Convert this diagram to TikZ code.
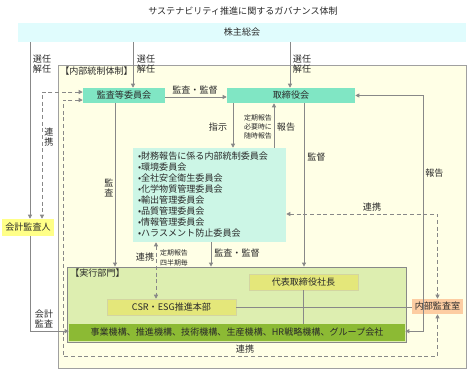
\documentclass[tikz,border=0pt]{standalone}
\usepackage{fontspec}
\setmainfont{Noto Sans CJK JP}
\usetikzlibrary{arrows.meta}

\definecolor{txtgray}{HTML}{2A2A2A}
\definecolor{lngray}{HTML}{888888}
\definecolor{agmcyan}{HTML}{E0FCFD}
\definecolor{icyellow}{HTML}{FFFFE6}
\definecolor{mint}{HTML}{80E6C4}
\definecolor{lightmint}{HTML}{CCF6E6}
\definecolor{execgreen}{HTML}{DDEEB0}
\definecolor{boxyellow}{HTML}{E4E77A}
\definecolor{bargreen}{HTML}{8CBA34}
\definecolor{peach}{HTML}{FDCDA2}
\definecolor{cpayellow}{HTML}{FFFF88}

\begin{document}
\begin{tikzpicture}[x=0.75pt, y=-0.75pt, font=\fontsize{6.8}{8}\selectfont,
    every node/.style={text=txtgray},
    box/.style={inner sep=0pt, minimum height=11.25pt},
    lbl/.style={inner sep=0pt, align=center, font=\fontsize{6.8}{7.6}\selectfont},
    small/.style={inner sep=0pt, align=center, font=\fontsize{5.2}{7}\selectfont},
    arr/.style={draw=lngray, line width=0.6pt, -{Triangle[length=3pt,width=3pt]}},
    arrboth/.style={draw=lngray, line width=0.6pt, {Triangle[length=3pt,width=3pt]}-{Triangle[length=3pt,width=3pt]}},
    dasharr/.style={arrboth, densely dashed},
    ln/.style={draw=lngray, line width=0.6pt}]
    \useasboundingbox (0,0) rectangle (467,370);

    % Title
    \node[inner sep=0pt] (title) at (243,11) {サステナビリティ推進に関するガバナンス体制};

    % Shareholders meeting
    \node[box, fill=agmcyan, minimum width=336pt, minimum height=14.25pt] (agm) at (242,32.5) {株主総会};

    % Internal control frame
    \node[draw=lngray!80, fill=icyellow, line width=0.6pt, minimum width=306pt, minimum height=227.25pt, inner sep=0pt] (ic) at (262,216.5) {};
    \node[inner sep=0pt, anchor=west] (iclabel) at (60,71) {【内部統制体制】};

    % Committees and board
    \node[box, fill=mint, minimum width=61.5pt] (audit) at (124,95.5) {監査等委員会};
    \node[box, fill=mint, minimum width=96pt] (board) at (291,95.5) {取締役会};
    \node[fill=lightmint, minimum height=70.5pt, text width=107.25pt, inner xsep=3.75pt, inner ysep=0pt,
        align=left, font=\fontsize{6.8}{8.25}\selectfont] (comm) at (209.5,195)
        {•財務報告に係る内部統制委員会\\•環境委員会\\•全社安全衛生委員会\\•化学物質管理委員会\\•輸出管理委員会\\•品質管理委員会\\•情報管理委員会\\•ハラスメント防止委員会};

    % Outside the frame
    \node[box, fill=cpayellow, minimum width=39pt, minimum height=12.75pt] (cpa) at (28,227.5) {会計監査人};
    \node[box, fill=peach, minimum width=38.25pt] (iad) at (437.5,306.5) {内部監査室};

    % Execution division
    \node[draw=lngray, fill=execgreen, line width=0.6pt, minimum width=254.25pt, minimum height=56.25pt, inner sep=0pt] (exec) at (236.5,304.5) {};
    \node[inner sep=0pt, anchor=west] (execlabel) at (70,273) {【実行部門】};
    \node[box, draw=boxyellow!80!black!60, fill=boxyellow, minimum width=81.75pt, minimum height=12pt] (ceo) at (303.5,282) {代表取締役社長};
    \node[box, draw=boxyellow!80!black!60, fill=boxyellow, minimum width=96.75pt, minimum height=12pt] (csr) at (171.5,307) {CSR・ESG推進本部};
    \node[box, fill=bargreen, minimum width=252pt, minimum height=12.75pt] (bar) at (237,332.5) {事業機構、推進機構、技術機構、生産機構、HR戦略機構、グループ会社};

    % Guide coordinates
    \coordinate (xcpa) at (30,0);
    \coordinate (xlink) at (42,0);
    \coordinate (dlow) at (63,356);
    \coordinate (xrep) at (423,0);

    % Elections
    \draw[arr] (agm.south -| xcpa) -- (cpa.north -| xcpa);
    \draw[arr] (agm.south -| 133,0) -- (audit.north -| 133,0);
    \draw[arr] (agm.south -| 290,0) -- (board.north -| 290,0);
    \node[lbl] (el1) at (42,64) {選任\\解任};
    \node[lbl] (el2) at (146,64) {選任\\解任};
    \node[lbl] (el3) at (302,64) {選任\\解任};

    % Audit committee to board
    \draw[arr] (audit.east |- 0,97) -- (board.west |- 0,97);
    \node[lbl, above] (l1) at (195,95) {監査・監督};

    % Board and committees
    \draw[arr] (board.south -| 233,0) -- (comm.north -| 233,0);
    \node[lbl] (l2) at (218,127) {指示};
    \draw[arr] (comm.north -| 274,0) -- (board.south -| 274,0);
    \node[small] (l3) at (258,127) {定期報告\\必要時に\\随時報告};
    \node[lbl] (l4) at (286,127) {報告};
    \draw[arr] (board.south -| 304,0) -- (exec.north -| 304,0);
    \node[lbl, anchor=west] (l5) at (307,157) {監督};

    % Report loop on the right
    \draw[arrboth] (board.east) -- (board.east -| xrep) |- ([yshift=1pt]bar.east);
    \node[lbl, anchor=west] (l6) at (425,173) {報告};

    % Cooperation lines
    \draw[dasharr] ([yshift=2.6pt]audit.west) -| (cpa.north -| xlink);
    \node[lbl] (l7) at (49,137) {連\\携};
    \draw[dasharr] ([yshift=-3.4pt]audit.west) -| (dlow) -| (iad.south);
    \node[lbl] (l8) at (245,349) {連携};
    \draw[dasharr] ([yshift=-14.25pt]comm.east) -| (iad.north);
    \node[lbl] (l9) at (372,207) {連携};

    % Audit lines
    \draw[arr] (audit.south -| 115,0) -- (exec.north -| 115,0);
    \node[lbl] (l10) at (109,188) {監\\査};
    \draw[dasharr] (comm.south -| 156,0) -- (csr.north -| 156,0);
    \node[lbl] (l11) at (145,257) {連携};
    \node[small] (l12) at (174,258) {定期報告\\四半期毎};
    \draw[arr] (comm.south -| 211,0) -- (exec.north -| 211,0);
    \node[lbl] (l13) at (237,253) {監査・監督};

    % Accounting audit
    \draw[arr] (cpa.south -| xcpa) |- ([yshift=1pt]bar.west);
    \node[lbl] (l14) at (44,319) {会計\\監査};

    % Inside execution division
    \draw[ln] (ceo.south) -- (bar.north -| ceo.south);
    \draw[ln] (csr.east) -- (iad.west |- csr.east);
\end{tikzpicture}
\end{document}
